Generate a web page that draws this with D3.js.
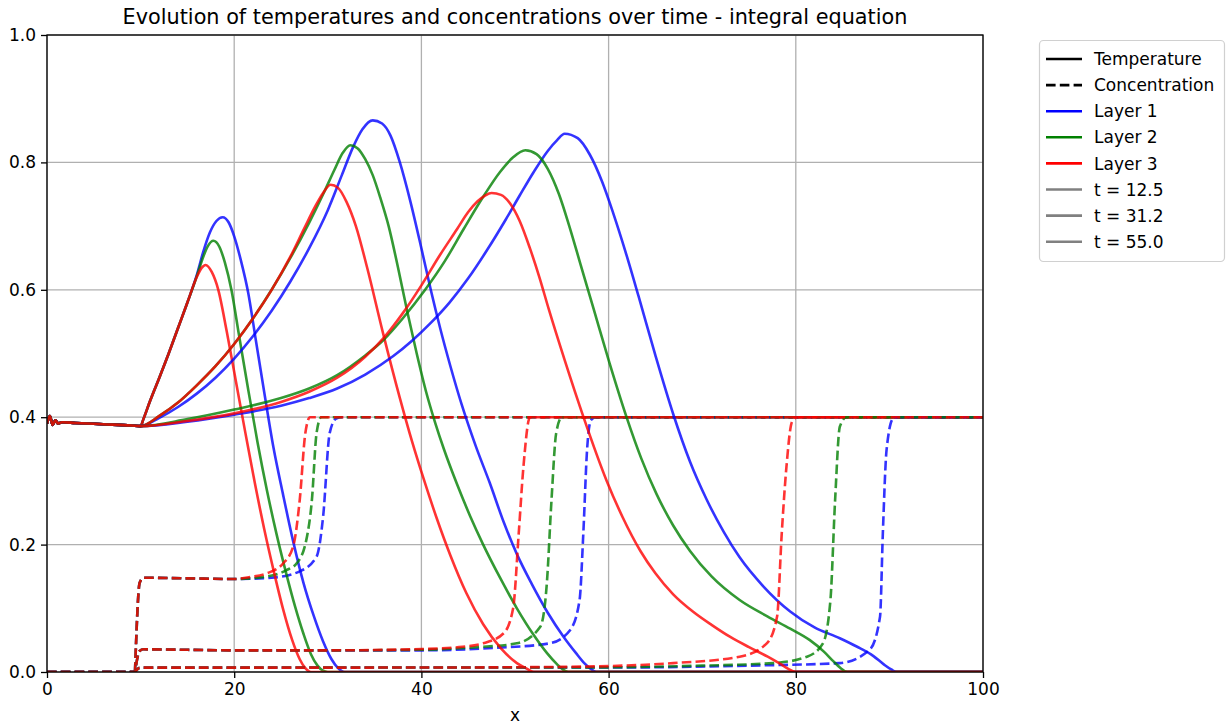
<!DOCTYPE html>
<html><head><meta charset="utf-8">
<script src="https://cdn.jsdelivr.net/npm/d3@7"></script>
<style>
html,body{margin:0;padding:0;background:#fff;}
svg{display:block;font-family:"DejaVu Sans",sans-serif;}
</style></head>
<body><svg id="c" width="1231" height="726"></svg>
<script>
// ---------- data ----------
const title = "Evolution of temperatures and concentrations over time - integral equation";
const xLabel = "x";
const xTicks = [0, 20, 40, 60, 80, 100];
const yTicks = [0.0, 0.2, 0.4, 0.6, 0.8, 1.0];
const layerNames = ["Layer 1", "Layer 2", "Layer 3"];
const layerColors = ["blue", "green", "red"];
const timeLabels = ["t = 12.5", "t = 31.2", "t = 55.0"];

// common temperature start (x < 10)
const tempStart = [[0,0.390],[0.3,0.402],[0.6,0.388],[0.9,0.395],[1.2,0.390],[1.6,0.392],[3,0.391],[6,0.389],[9,0.387]];

// temperatures, t = 12.5
const temp12_L1 = [[10,0.386],[10.3,0.397],[11,0.425],[12,0.462],[13,0.5],[14,0.54],[15,0.58],[16,0.623],[16.7,0.66],[17.4,0.69],[18.1,0.708],[18.77,0.714],[19.4,0.706],[20,0.684],[20.7,0.647],[21.5,0.595],[22.3,0.522],[23.2,0.44],[24.2,0.352],[25.2,0.28],[26.3,0.205],[27.4,0.14],[28.5,0.088],[29.5,0.048],[30.4,0.02],[31.1,0.006],[31.8,0],[100,0]];
const temp12_L2 = [[10,0.386],[10.3,0.397],[11,0.425],[12,0.462],[13,0.5],[14,0.54],[15,0.58],[16,0.621],[16.6,0.648],[17.2,0.669],[17.77,0.677],[18.4,0.668],[19,0.643],[19.7,0.6],[20.5,0.53],[21.5,0.443],[22.5,0.36],[23.5,0.285],[24.5,0.218],[25.5,0.158],[26.5,0.103],[27.4,0.06],[28.2,0.028],[28.9,0.01],[29.5,0.002],[30,0],[100,0]];
const temp12_L3 = [[10,0.386],[10.3,0.397],[11,0.425],[12,0.462],[13,0.5],[14,0.54],[15,0.58],[16,0.62],[16.5,0.634],[16.95,0.639],[17.6,0.628],[18.3,0.6],[19.2,0.535],[20.2,0.455],[21.2,0.375],[22.2,0.297],[23.2,0.225],[24.2,0.16],[25.2,0.1],[26.2,0.05],[27,0.02],[27.6,0.006],[28.2,0],[100,0]];

// temperatures, t = 31.2
const temp31_L1 = [[10,0.386],[12,0.399],[14,0.416],[16,0.437],[18,0.462],[20,0.492],[22,0.527],[24,0.567],[26,0.613],[28,0.665],[30,0.725],[31.5,0.78],[32.7,0.824],[33.7,0.852],[34.8,0.866],[35.8,0.861],[36.7,0.842],[37.7,0.8],[38.8,0.74],[40,0.665],[41,0.6],[42,0.54],[43.1,0.48],[44.3,0.42],[45.8,0.355],[47.3,0.297],[48.8,0.235],[50.2,0.185],[51.8,0.138],[53.5,0.093],[55.2,0.055],[56.5,0.03],[57.4,0.014],[58.1,0.005],[58.7,0],[100,0]];
const temp31_L2 = [[10,0.386],[12,0.402],[14,0.423],[16,0.45],[18,0.48],[20,0.515],[22,0.555],[24,0.6],[26,0.65],[28,0.705],[29.5,0.75],[30.7,0.788],[31.6,0.815],[32.4,0.827],[33.2,0.822],[34,0.805],[34.8,0.78],[35.6,0.745],[36.5,0.7],[37.5,0.635],[38.5,0.565],[39.5,0.5],[40.5,0.44],[41.5,0.39],[42.4,0.35],[43.8,0.295],[45.2,0.245],[46.6,0.2],[48.4,0.148],[50.2,0.1],[52,0.058],[53.4,0.03],[54.5,0.012],[55.2,0.003],[55.7,0],[100,0]];
const temp31_L3 = [[10,0.386],[12,0.402],[14,0.423],[16,0.45],[18,0.48],[20,0.515],[22,0.555],[24,0.6],[26,0.652],[27.5,0.697],[28.7,0.732],[29.5,0.752],[30.3,0.765],[31.1,0.76],[32,0.738],[33,0.7],[34.2,0.635],[35.9,0.532],[37.7,0.43],[39,0.362],[40.2,0.305],[41.6,0.243],[43.1,0.183],[44.8,0.124],[46.6,0.075],[48.5,0.037],[50.2,0.014],[51.3,0.005],[52,0],[100,0]];

// temperatures, t = 55.0
const temp55_L1 = [[10,0.386],[15,0.393],[20,0.404],[25,0.418],[28,0.43],[31,0.445],[34,0.467],[37,0.496],[39,0.52],[41,0.548],[43,0.58],[45,0.618],[47,0.662],[49,0.71],[50.5,0.748],[52,0.785],[53.5,0.818],[54.5,0.835],[55.3,0.845],[56.7,0.838],[58,0.812],[59.3,0.77],[60.5,0.72],[61.8,0.66],[63.2,0.59],[65,0.497],[66.9,0.405],[68.7,0.33],[70.5,0.27],[72.3,0.22],[74,0.18],[76.5,0.135],[79.4,0.095],[82,0.07],[84.7,0.053],[86.5,0.04],[88.3,0.025],[89.4,0.012],[90.2,0.004],[90.8,0],[100,0]];
const temp55_L2 = [[10,0.386],[15,0.397],[20,0.412],[25,0.43],[28,0.445],[31,0.466],[34,0.497],[36,0.522],[38,0.555],[40.4,0.6],[42.5,0.645],[44.5,0.695],[46.6,0.746],[48.4,0.785],[49.8,0.808],[51.1,0.819],[52.3,0.813],[53.5,0.79],[54.7,0.75],[55.8,0.7],[57,0.64],[58.4,0.57],[60.1,0.485],[61.9,0.401],[63.5,0.335],[65.1,0.28],[66.9,0.23],[68.7,0.19],[71,0.15],[74,0.113],[77,0.087],[79.4,0.068],[81.5,0.05],[83,0.032],[84,0.017],[84.8,0.006],[85.5,0],[100,0]];
const temp55_L3 = [[10,0.386],[15,0.394],[20,0.406],[25,0.424],[28,0.44],[31,0.462],[34,0.495],[36,0.525],[38,0.563],[40,0.607],[42,0.655],[43.8,0.695],[45,0.722],[46,0.739],[46.8,0.748],[47.5,0.752],[48.5,0.749],[49.5,0.735],[50.5,0.708],[51.6,0.665],[52.6,0.62],[53.6,0.57],[55.3,0.49],[57.3,0.401],[59.8,0.3],[61.5,0.243],[63.4,0.19],[65,0.155],[66.9,0.122],[69,0.095],[71,0.074],[73,0.055],[75,0.039],[77,0.024],[78.3,0.013],[79.2,0.005],[80,0],[100,0]];

// concentrations, t = 12.5
const conc12_L1 = [[0,0],[9.4,0],[9.9,0.14],[10.3,0.148],[15,0.147],[20,0.146],[24,0.148],[27,0.158],[28.8,0.181],[29.5,0.244],[30.2,0.375],[30.9,0.398],[31.5,0.4],[100,0.4]];
const conc12_L2 = [[0,0],[9.4,0],[9.9,0.14],[10.3,0.148],[15,0.147],[20,0.146],[23,0.149],[25.6,0.16],[26.7,0.171],[27.7,0.207],[28.3,0.27],[28.8,0.375],[29.3,0.4],[100,0.4]];
const conc12_L3 = [[0,0],[9.4,0],[9.9,0.14],[10.3,0.148],[15,0.147],[20,0.146],[21.7,0.149],[23.5,0.155],[25.2,0.17],[26.3,0.197],[27,0.27],[27.6,0.375],[28.1,0.4],[100,0.4]];

// concentrations, t = 31.2
const conc31_L1 = [[0,0],[9.4,0],[9.9,0.033],[10.3,0.0356],[20,0.034],[30,0.034],[40,0.034],[48,0.038],[53.7,0.045],[55.9,0.066],[56.9,0.113],[57.3,0.218],[57.7,0.349],[58.1,0.395],[58.6,0.4],[100,0.4]];
const conc31_L2 = [[0,0],[9.4,0],[9.9,0.033],[10.3,0.0356],[20,0.034],[30,0.034],[40,0.035],[46,0.039],[50.2,0.045],[52.7,0.071],[53.4,0.139],[53.9,0.27],[54.4,0.375],[55,0.4],[100,0.4]];
const conc31_L3 = [[0,0],[9.4,0],[9.9,0.033],[10.3,0.0356],[20,0.034],[30,0.034],[40,0.036],[44,0.039],[46.6,0.045],[48.8,0.061],[49.8,0.1],[50.4,0.218],[50.9,0.322],[51.6,0.4],[100,0.4]];

// concentrations, t = 55.0
const conc55_L1 = [[0,0],[9.4,0],[9.9,0.0065],[10.3,0.0068],[40,0.007],[60,0.007],[75,0.01],[84.7,0.014],[87.9,0.035],[89,0.087],[89.3,0.218],[89.7,0.349],[90.4,0.398],[91,0.4],[100,0.4]];
const conc55_L2 = [[0,0],[9.4,0],[9.9,0.0065],[10.3,0.0068],[40,0.007],[55,0.007],[70,0.01],[77.6,0.014],[81.2,0.024],[82.9,0.045],[83.7,0.113],[84.2,0.27],[84.7,0.385],[85.4,0.4],[100,0.4]];
const conc55_L3 = [[0,0],[9.4,0],[9.9,0.0065],[10.3,0.0068],[40,0.007],[55,0.008],[66.9,0.014],[74,0.024],[76.9,0.045],[78,0.087],[78.5,0.218],[79,0.322],[79.6,0.393],[80.2,0.4],[100,0.4]];

const temperatures = [[temp12_L1,temp12_L2,temp12_L3],[temp31_L1,temp31_L2,temp31_L3],[temp55_L1,temp55_L2,temp55_L3]];
const concentrations = [[conc12_L1,conc12_L2,conc12_L3],[conc31_L1,conc31_L2,conc31_L3],[conc55_L1,conc55_L2,conc55_L3]];

// ---------- drawing ----------
const svg = d3.select("#c");
const m = {left:47, right:983, top:35, bottom:672};
const x = d3.scaleLinear().domain([0,100]).range([m.left,m.right]);
const y = d3.scaleLinear().domain([0,1]).range([m.bottom,m.top]);

svg.append("defs").append("clipPath").attr("id","clip")
  .append("rect").attr("x",m.left).attr("y",m.top).attr("width",m.right-m.left).attr("height",m.bottom-m.top);

// grid
const grid = svg.append("g");
grid.selectAll(".gx").data(xTicks).join("line")
  .attr("x1",d=>x(d)).attr("x2",d=>x(d)).attr("y1",m.top).attr("y2",m.bottom)
  .attr("stroke","#b0b0b0").attr("stroke-width",1.3);
grid.selectAll(".gy").data(yTicks).join("line")
  .attr("x1",m.left).attr("x2",m.right).attr("y1",d=>y(d)).attr("y2",d=>y(d))
  .attr("stroke","#b0b0b0").attr("stroke-width",1.3);

const line = d3.line().x(d=>x(d[0])).y(d=>y(d[1])).curve(d3.curveMonotoneX);
const plot = svg.append("g").attr("clip-path","url(#clip)");
const dash = "9.6,4.2";
const dashPhase = [0, 6.9, 3.45];

temperatures.forEach((tSet, ti) => {
  tSet.forEach((pts, li) => {
    plot.append("path").datum(tempStart.concat(pts)).attr("d", line)
      .attr("fill","none").attr("stroke",layerColors[li]).attr("stroke-opacity",0.8)
      .attr("stroke-width",2.6).attr("stroke-linejoin","round");
    const c = concentrations[ti][li];
    const pre = c.filter(p => p[0] <= 9.4), post = c.filter(p => p[0] >= 9.4);
    [[pre,0],[post,dashPhase[ti]]].forEach(([seg,off]) => {
      plot.append("path").datum(seg).attr("d", line)
        .attr("fill","none").attr("stroke",layerColors[li]).attr("stroke-opacity",0.8)
        .attr("stroke-width",2.6).attr("stroke-dasharray",dash).attr("stroke-dashoffset",off);
    });
  });
});

// frame
svg.append("rect").attr("x",m.left).attr("y",m.top).attr("width",m.right-m.left).attr("height",m.bottom-m.top)
  .attr("fill","none").attr("stroke","#000").attr("stroke-width",1.3);

// axes
const fs = 17;
const xAxis = svg.append("g").attr("transform",`translate(0,${m.bottom})`)
  .call(d3.axisBottom(x).tickValues(xTicks).tickFormat(d3.format("d")).tickSize(6).tickPadding(5));
const yAxis = svg.append("g").attr("transform",`translate(${m.left},0)`)
  .call(d3.axisLeft(y).tickValues(yTicks).tickFormat(d3.format(".1f")).tickSize(6).tickPadding(5));
[xAxis,yAxis].forEach(a=>{
  a.select(".domain").remove();
  a.selectAll(".tick line").attr("stroke","#000").attr("stroke-width",1.3);
  a.selectAll(".tick text").attr("fill","#000").style("font-size",fs+"px").style("font-family","DejaVu Sans");
});

svg.append("text").attr("x",(m.left+m.right)/2).attr("y",24).attr("text-anchor","middle")
  .style("font-size","20.8px").attr("fill","#000").text(title);
svg.append("text").attr("x",(m.left+m.right)/2).attr("y",721).attr("text-anchor","middle")
  .style("font-size",fs+"px").attr("fill","#000").text(xLabel);

// legend
const legendItems = [
  {label:"Temperature", color:"#000", dash:null},
  {label:"Concentration", color:"#000", dash:dash},
].concat(layerNames.map((n,i)=>({label:n, color:layerColors[i], dash:null})))
 .concat(timeLabels.map(n=>({label:n, color:"#808080", dash:null})));

const lg = svg.append("g");
lg.append("rect").attr("x",1039.5).attr("y",40.5).attr("width",185).attr("height",221).attr("rx",4)
  .attr("fill","#fff").attr("fill-opacity",0.8).attr("stroke","#d0d0d0").attr("stroke-width",1.2);
legendItems.forEach((it,i)=>{
  const yy = 59 + i*26.1;
  lg.append("line").attr("x1",1046).attr("x2",1082).attr("y1",yy).attr("y2",yy)
    .attr("stroke",it.color).attr("stroke-width",2.6).attr("stroke-dasharray",it.dash);
  lg.append("text").attr("x",1094).attr("y",yy).attr("dy","0.36em")
    .style("font-size",fs+"px").attr("fill","#000").text(it.label);
});
</script></body></html>
